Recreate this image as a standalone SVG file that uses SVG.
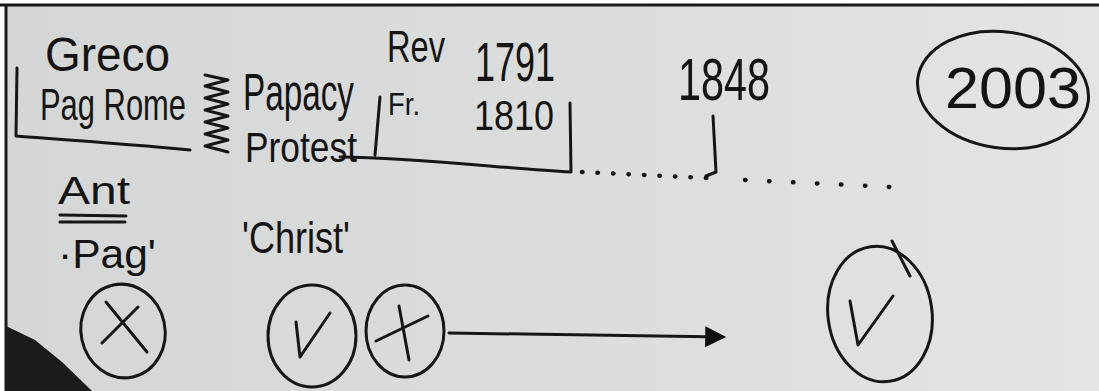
<svg xmlns="http://www.w3.org/2000/svg" width="1099" height="391" viewBox="0 0 1099 391">
<defs>
<linearGradient id="board" x1="0" y1="0" x2="1" y2="0">
<stop offset="0" stop-color="#d5d7d6"/>
<stop offset="0.5" stop-color="#dbdddc"/>
<stop offset="1" stop-color="#e3e5e4"/>
</linearGradient>
<marker id="ah" viewBox="0 0 10 10" refX="8" refY="5" markerWidth="8" markerHeight="7" orient="auto" markerUnits="strokeWidth">
<path d="M0,0 L10,5 L0,10 Z" fill="#111"/>
</marker>
<style>
.ink{fill:none;stroke:#161616;stroke-width:3;stroke-linecap:round;stroke-linejoin:round}
.t{font-family:"Liberation Sans","DejaVu Sans",sans-serif;fill:#141414}
.dots{fill:none;stroke:#161616;stroke-width:4.5;stroke-linecap:round}
</style>
</defs>
<rect x="0" y="0" width="1099" height="391" fill="#ffffff"/>
<rect x="6" y="5" width="1093" height="386" fill="url(#board)"/>
<path d="M0,5 H1099 M6,5 V391" stroke="#1a1a1a" stroke-width="3" fill="none"/>
<path d="M6,326 L35,340 L62,362 L92,391 L6,391 Z" fill="#1b1b1b"/>

<g id="greco-rome">
<text class="t" x="45" y="71" font-size="48" textLength="125" lengthAdjust="spacingAndGlyphs">Greco</text>
<text class="t" x="40" y="120" font-size="44" textLength="146" lengthAdjust="spacingAndGlyphs">Pag Rome</text>
<path class="ink" d="M17,68 L16,136 C70,140 130,144 190,150"/>
</g>
<g id="zigzag">
<path class="ink" d="M205,75 L228,80 L205,86 L228,92 L205,98 L228,104 L205,110 L228,116 L205,122 L228,128 L205,134 L228,140 L205,146 L228,152"/>
</g>
<g id="papacy-protest">
<text class="t" x="0" y="0" font-size="52" transform="translate(243,110) scale(0.64,1)">Papacy</text>
<text class="t" x="245" y="162" font-size="42" textLength="112" lengthAdjust="spacingAndGlyphs">Protest</text>
</g>
<g id="rev-fr">
<text class="t" x="387" y="62" font-size="44" textLength="58" lengthAdjust="spacingAndGlyphs">Rev</text>
<text class="t" x="475" y="81" font-size="56" textLength="80" lengthAdjust="spacingAndGlyphs">1791</text>
<text class="t" x="388" y="115" font-size="32" textLength="32" lengthAdjust="spacingAndGlyphs">Fr.</text>
<text class="t" x="474" y="130" font-size="42" textLength="80" lengthAdjust="spacingAndGlyphs">1810</text>
<path class="ink" d="M380,97 L375,155 M340,157 C420,158 500,168 571,172 L570,103"/>
</g>
<g id="y1848">
<text class="t" x="678" y="100" font-size="60" textLength="92" lengthAdjust="spacingAndGlyphs">1848</text>
<path class="ink" d="M713,116 L716,172 L706,176"/>
</g>
<g id="y2003">
<ellipse class="ink" cx="1003" cy="90" rx="86" ry="58" transform="rotate(8 1003 90)"/>
<text class="t" x="945" y="108" font-size="58" textLength="136" lengthAdjust="spacingAndGlyphs">2003</text>
</g>
<g id="ant-pag">
<text class="t" x="58" y="204" font-size="38" textLength="72" lengthAdjust="spacingAndGlyphs">Ant</text>
<path class="ink" d="M60,215 L126,216 M60,222 L125,222"/>
<text class="t" x="58" y="268" font-size="40" textLength="98" lengthAdjust="spacingAndGlyphs">·Pag'</text>
</g>
<g id="christ">
<text class="t" x="242" y="253" font-size="44" textLength="108" lengthAdjust="spacingAndGlyphs">'Christ'</text>
</g>
<g id="circle-x">
<ellipse class="ink" cx="123" cy="331" rx="42" ry="47" transform="rotate(-12 123 331)"/>
<path class="ink" d="M106,302 L147,352 M138,307 L102,343"/>
</g>
<g id="circle-check">
<ellipse class="ink" cx="312" cy="336" rx="44" ry="51"/>
<path class="ink" d="M296,322 L300,357 L330,313"/>
</g>
<g id="circle-plus">
<ellipse class="ink" cx="405" cy="331" rx="39" ry="46"/>
<path class="ink" d="M399,306 L409,360 M376,341 L428,316"/>
</g>
<g id="circle-check-2">
<ellipse class="ink" cx="880" cy="314" rx="52" ry="68" transform="rotate(-8 880 314)"/>
<path class="ink" d="M850,301 L858,345 L893,296 M892,241 L910,276"/>
</g>
<g id="connectors">
<path class="dots" d="M582,172 L708,178" stroke-dasharray="0.5 15"/>
<path class="dots" d="M745,180 L912,188" stroke-dasharray="0.5 23.5"/>
<path class="ink" d="M449,333 C560,334 640,336 722,337" marker-end="url(#ah)"/>
</g>
</svg>
